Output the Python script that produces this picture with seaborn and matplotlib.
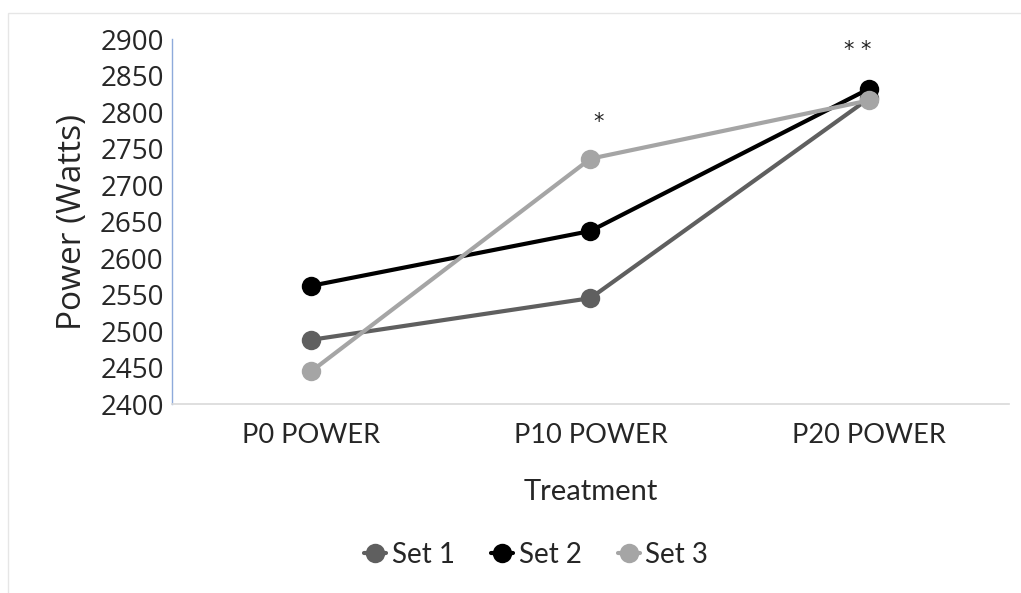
import matplotlib
matplotlib.use("Agg")
import matplotlib.pyplot as plt
from matplotlib.patches import Rectangle
import seaborn as sns
import pandas as pd

treatments = ["P0 POWER", "P10 POWER", "P20 POWER"]
set_names = ["Set 1", "Set 2", "Set 3"]
set1 = [2488, 2545, 2819]
set2 = [2562, 2637, 2832]
set3 = [2445, 2736, 2816]
y_ticks = list(range(2400, 2901, 50))
sig_marks = [("*", 1.03, 2787), ("* *", 1.96, 2885)]

colors = {"Set 1": "#5f5f5f", "Set 2": "#000000", "Set 3": "#a5a5a5"}

rows = []
for name, vals in zip(set_names, [set1, set2, set3]):
    for t, v in zip(treatments, vals):
        rows.append({"Treatment": t, "Power": v, "Set": name})
df = pd.DataFrame(rows)

sns.set_theme(style="white")
plt.rcParams["font.family"] = ["Open Sans", "DejaVu Sans"]
label_font = ["Lato", "DejaVu Sans"]

fig = plt.figure(figsize=(10.21, 5.93), dpi=100)
ax = fig.add_axes([0.1685, 0.3187, 0.8195, 0.6155])

sns.lineplot(data=df, x="Treatment", y="Power", hue="Set", hue_order=set_names,
             palette=colors, marker="o", markersize=14, markeredgewidth=0,
             linewidth=3, sort=False, ax=ax, legend=False)

ax.set_xlim(-0.5, 2.5)
ax.set_ylim(2400, 2900)
ax.set_yticks(y_ticks)
ax.set_yticklabels([str(v) for v in y_ticks], fontsize=20)
ax.set_xticks(range(len(treatments)))
ax.set_xticklabels(treatments, fontsize=19.5, family=label_font)
ax.tick_params(axis="y", length=5, width=1, color="#8eaadb", pad=1)
ax.tick_params(axis="x", length=0, pad=14)

for side in ["top", "right"]:
    ax.spines[side].set_visible(False)
ax.spines["left"].set_color("#8eaadb")
ax.spines["left"].set_linewidth(1)
ax.spines["bottom"].set_color("#d9d9d9")
ax.spines["bottom"].set_linewidth(1.2)

ax.set_ylabel("Power (Watts)", fontsize=24, labelpad=8)
ax.set_xlabel("Treatment", fontsize=21, family=label_font, labelpad=22)

for txt, xi, yv in sig_marks:
    ax.text(xi, yv, txt, ha="center", va="center", fontsize=15,
            family=["DejaVu Sans"], color="#222222")

handles = [plt.Line2D([0], [0], color=colors[n], marker="o", markersize=14,
                      markeredgewidth=0, linewidth=3) for n in set_names]
fig.legend(handles, set_names, loc="center", bbox_to_anchor=(0.525, 0.064),
           ncol=3, frameon=False, handlelength=0.8, columnspacing=1.3,
           handletextpad=0.2, prop={"family": label_font, "size": 20})

fig.patches.append(Rectangle((0.008, -0.01), 1.0, 0.988, transform=fig.transFigure,
                             fill=False, edgecolor="#e6e6e6", linewidth=1))

fig.savefig("out.png", dpi=100)
